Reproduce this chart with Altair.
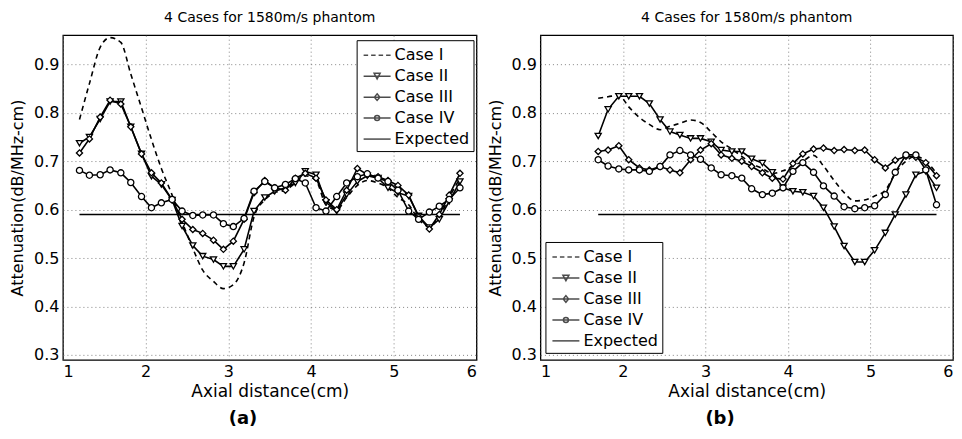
import altair as alt
import pandas as pd

SERIES = ["Case I", "Case II", "Case III", "Case IV", "Expected"]
EXPECTED = 0.59
TITLE = "4 Cases for 1580m/s phantom"

# ---------- panel (a) ----------
X_A = [1.20, 1.32, 1.45, 1.57, 1.70, 1.82, 1.95, 2.07, 2.19, 2.32, 2.44, 2.57, 2.69,
       2.82, 2.94, 3.06, 3.19, 3.31, 3.44, 3.56, 3.69, 3.81, 3.93, 4.06, 4.18, 4.31,
       4.43, 4.56, 4.68, 4.81, 4.93, 5.05, 5.18, 5.30, 5.43, 5.55, 5.67, 5.80]
A_CASE1 = [0.786, 0.86, 0.935, 0.955, 0.945, 0.88, 0.81, 0.745, 0.685, 0.63, 0.575, 0.52,
           0.475, 0.452, 0.437, 0.445, 0.49, 0.585, 0.62, 0.635, 0.64, 0.655, 0.67, 0.66,
           0.61, 0.60, 0.625, 0.65, 0.66, 0.655, 0.645, 0.625, 0.61, 0.58, 0.565, 0.585,
           0.625, 0.665]
A_CASE2 = [0.737, 0.75, 0.787, 0.823, 0.823, 0.771, 0.715, 0.669, 0.652, 0.62, 0.566, 0.526,
           0.504, 0.497, 0.483, 0.483, 0.518, 0.597, 0.625, 0.638, 0.645, 0.655, 0.679, 0.672,
           0.615, 0.597, 0.631, 0.658, 0.67, 0.665, 0.645, 0.635, 0.628, 0.587, 0.563, 0.58,
           0.617, 0.658]
A_CASE3 = [0.717, 0.746, 0.791, 0.826, 0.818, 0.771, 0.715, 0.676, 0.655, 0.62, 0.58, 0.559,
           0.551, 0.537, 0.518, 0.535, 0.58, 0.635, 0.66, 0.645, 0.64, 0.665, 0.675, 0.665,
           0.62, 0.60, 0.64, 0.685, 0.672, 0.668, 0.66, 0.65, 0.63, 0.585, 0.56, 0.59,
           0.63, 0.675]
A_CASE4 = [0.681, 0.671, 0.672, 0.682, 0.676, 0.656, 0.627, 0.604, 0.614, 0.621, 0.597, 0.588,
           0.589, 0.589, 0.571, 0.565, 0.582, 0.638, 0.658, 0.645, 0.652, 0.664, 0.655, 0.604,
           0.597, 0.627, 0.655, 0.668, 0.674, 0.665, 0.658, 0.640, 0.597, 0.580, 0.595, 0.607,
           0.621, 0.645]
A_EXPECTED_X = [1.2, 5.8]

# ---------- panel (b) ----------
X_B = [1.70, 1.82, 1.95, 2.07, 2.20, 2.32, 2.45, 2.57, 2.69, 2.82, 2.94, 3.07, 3.19, 3.32,
       3.44, 3.56, 3.69, 3.81, 3.94, 4.06, 4.18, 4.31, 4.43, 4.56, 4.68, 4.81, 4.93, 5.05,
       5.18, 5.30, 5.43, 5.55, 5.67, 5.80]
B_CASE1 = [0.83, 0.833, 0.836, 0.812, 0.79, 0.776, 0.765, 0.772, 0.778, 0.785, 0.78, 0.76,
           0.74, 0.725, 0.71, 0.695, 0.685, 0.675, 0.68, 0.69, 0.70, 0.712, 0.69, 0.66,
           0.635, 0.618, 0.62, 0.628, 0.64, 0.675, 0.70, 0.71, 0.70, 0.675]
B_CASE2 = [0.752, 0.807, 0.834, 0.834, 0.834, 0.819, 0.786, 0.761, 0.754, 0.747, 0.747, 0.74,
           0.723, 0.72, 0.72, 0.705, 0.696, 0.677, 0.645, 0.638, 0.636, 0.628, 0.604, 0.565,
           0.525, 0.492, 0.492, 0.516, 0.552, 0.59, 0.631, 0.672, 0.679, 0.645]
B_CASE3 = [0.72, 0.723, 0.732, 0.703, 0.686, 0.682, 0.689, 0.682, 0.676, 0.703, 0.723, 0.736,
           0.713, 0.706, 0.70, 0.689, 0.676, 0.665, 0.663, 0.695, 0.715, 0.725, 0.727, 0.722,
           0.724, 0.722, 0.723, 0.703, 0.686, 0.702, 0.71, 0.708, 0.697, 0.67]
B_CASE4 = [0.703, 0.69, 0.684, 0.682, 0.682, 0.679, 0.689, 0.713, 0.722, 0.713, 0.704, 0.686,
           0.672, 0.67, 0.665, 0.643, 0.631, 0.634, 0.645, 0.679, 0.697, 0.677, 0.649, 0.628,
           0.606, 0.602, 0.604, 0.608, 0.631, 0.677, 0.713, 0.713, 0.682, 0.61]
B_EXPECTED_X = [1.7, 5.8]

MARKER_SERIES = ["Case II", "Case III", "Case IV"]
MARKER_SHAPES = ["triangle-down", "diamond", "circle"]
# legend symbols: line sample with a small marker on it
LEGEND_PATHS = [
    "M-0.8,0H-0.35M-0.05,0H0.4M0.7,0H1.15M1.45,0H1.9",
    "M-0.8,0H1.9M0.25,-0.28H0.85L0.55,0.28Z",
    "M-0.8,0H1.9M0.55,-0.33L0.82,0L0.55,0.33L0.28,0Z",
    "M-0.8,0H1.9M0.3,0A0.25,0.25 0 1,0 0.8,0A0.25,0.25 0 1,0 0.3,0",
    "M-0.8,0H1.9",
]

FONT = "DejaVu Sans"


def long_df(x, cases, exp_x):
    rows = []
    for name, ys in zip(SERIES[:4], cases):
        for xv, yv in zip(x, ys):
            rows.append({"x": xv, "y": yv, "series": name})
    for xv in exp_x:
        rows.append({"x": xv, "y": EXPECTED, "series": "Expected"})
    return pd.DataFrame(rows)


def panel(df, width, legend_xy, label):
    xenc = alt.X("x:Q", scale=alt.Scale(domain=[1, 6], nice=False),
                 axis=alt.Axis(values=[1, 2, 3, 4, 5, 6], format="d", title="Axial distance(cm)",
                               labelPadding=4, titlePadding=4, titleFontSize=17))
    yenc = alt.Y("y:Q", scale=alt.Scale(domain=[0.29, 0.96], nice=False, zero=False),
                 axis=alt.Axis(values=[0.3, 0.4, 0.5, 0.6, 0.7, 0.8, 0.9], format=".1f",
                               title="Attenuation(dB/MHz-cm)", labelPadding=4, titlePadding=8))
    base = alt.Chart(df)
    dashed = base.mark_line(color="black", strokeWidth=1.6, strokeDash=[5, 4],
                            interpolate="monotone", clip=True).encode(
        x=xenc, y=yenc).transform_filter(alt.datum.series == "Case I")
    solid = base.mark_line(color="black", strokeWidth=1.6, clip=True).encode(
        x=xenc, y=yenc, detail="series:N").transform_filter(alt.datum.series != "Case I")
    points = base.mark_point(fill="white", stroke="black", strokeWidth=1.3, size=38,
                             opacity=1, clip=True).encode(
        x=xenc, y=yenc,
        shape=alt.Shape("series:N", scale=alt.Scale(domain=MARKER_SERIES, range=MARKER_SHAPES),
                        legend=None),
    ).transform_filter(alt.FieldOneOfPredicate(field="series", oneOf=MARKER_SERIES))
    legend_layer = base.mark_point(filled=False, color="black", strokeWidth=1.5, size=400).encode(
        x=xenc, y=yenc,
        shape=alt.Shape("series:N", scale=alt.Scale(domain=SERIES, range=LEGEND_PATHS),
                        legend=alt.Legend(orient="none", legendX=legend_xy[0], legendY=legend_xy[1],
                                          title=None, symbolSize=400, labelFontSize=16,
                                          labelFont=FONT, labelColor="black", labelOffset=12,
                                          padding=4, rowPadding=2, strokeColor="black",
                                          fillColor="white", symbolStrokeWidth=1.5,
                                          symbolStrokeColor="black", cornerRadius=0)),
    ).transform_filter(alt.datum.x < 0)
    layer = alt.layer(dashed, solid, points, legend_layer).resolve_scale(
        shape="independent").resolve_legend(shape="independent").properties(
        width=width, height=325,
        title=alt.TitleParams(TITLE, fontSize=14, fontWeight="normal", offset=10,
                              anchor="middle", font=FONT, color="black"))
    return alt.vconcat(layer, title=alt.TitleParams(label, orient="bottom", anchor="middle",
                                                     fontSize=18, fontWeight="bold", offset=10,
                                                     font=FONT, color="black"))


df_a = long_df(X_A, [A_CASE1, A_CASE2, A_CASE3, A_CASE4], A_EXPECTED_X)
df_b = long_df(X_B, [B_CASE1, B_CASE2, B_CASE3, B_CASE4], B_EXPECTED_X)

chart = alt.hconcat(
    panel(df_a, 414, (294, 5), "(a)"),
    panel(df_b, 413, (5, 207), "(b)"),
    spacing=8,
).resolve_scale(shape="independent").resolve_legend(shape="independent").properties(
    padding={"left": 0, "top": 2, "right": 0, "bottom": 0}
).configure_view(stroke="black", strokeWidth=1.3).configure_axis(
    grid=True, gridDash=[1, 3], gridColor="#666", gridWidth=0.8, domain=False, ticks=False,
    labelFontSize=16, labelFont=FONT, labelColor="black", titleFontSize=16,
    titleFont=FONT, titleColor="black", titleFontWeight="normal"
).configure_concat(spacing=8)

chart.save("out.html", embed_options={"renderer": "svg", "actions": False})
